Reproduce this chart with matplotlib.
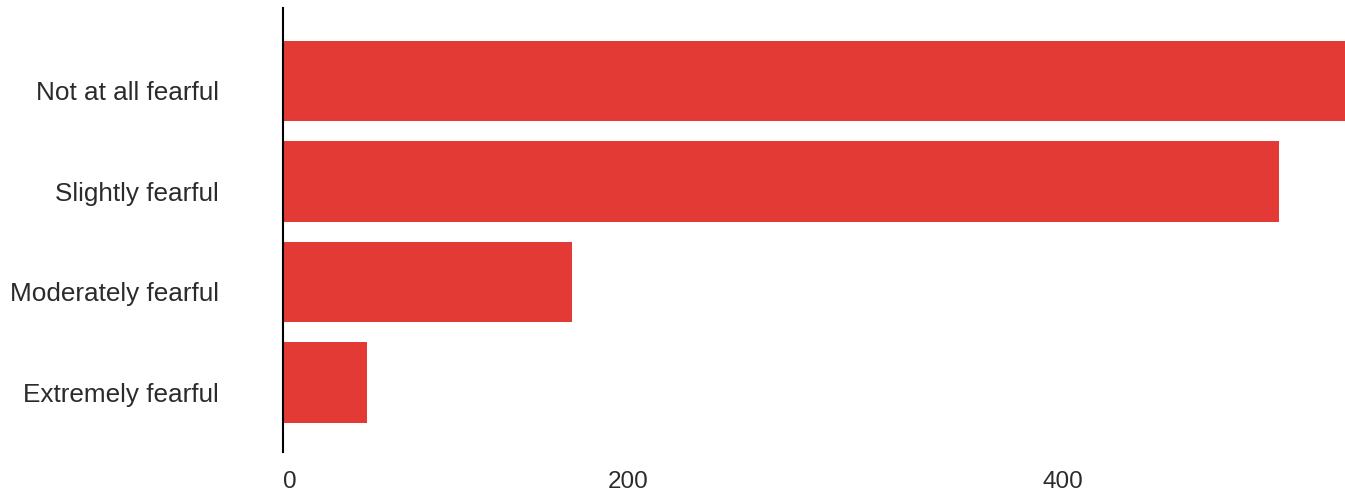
import matplotlib
matplotlib.use("Agg")
import matplotlib.pyplot as plt
from matplotlib.transforms import ScaledTranslation

# Fear level responses
categories = ["Not at all fearful", "Slightly fearful", "Moderately fearful", "Extremely fearful"]
counts = [560, 511, 148, 43]

# tick labels as they appear on the x axis
tick_labels = ["0", "200", "400"]
tick_values = [0, 177, 400]

bar_color = "#e43a36"
text_color = "#2b2b2b"

plt.rcParams["font.family"] = ["Liberation Sans", "DejaVu Sans"]

fig = plt.figure(figsize=(13.45, 5.0), dpi=100)
ax = fig.add_axes([283 / 1345, 48 / 500, 1062 / 1345, 444 / 500])

ypos = list(range(len(categories)))
ax.barh(ypos, counts, height=0.8, color=bar_color, zorder=2)

ax.set_xlim(0, 1062 / 1.95)
ax.set_ylim(3 + 0.69, -0.726)

# category labels, right-aligned 64px left of the axis, sitting a bit low
ax.set_yticks([])
label_tf = ax.get_yaxis_transform() + ScaledTranslation(-0.64, -0.12, fig.dpi_scale_trans)
for y, name in zip(ypos, categories):
    ax.text(0, y, name, transform=label_tf, ha="right", va="center",
            fontsize=18.8, color=text_color)

ax.set_xticks(tick_values)
ax.set_xticklabels(tick_labels, fontsize=17.5, color=text_color)
ax.tick_params(axis="x", length=0, pad=14)
ax.get_xticklabels()[0].set_horizontalalignment("left")

for side in ["top", "right", "bottom"]:
    ax.spines[side].set_visible(False)
ax.spines["left"].set_color("black")
ax.spines["left"].set_linewidth(1.5)
ax.spines["left"].set_zorder(3)

fig.savefig("out.png", dpi=100)
